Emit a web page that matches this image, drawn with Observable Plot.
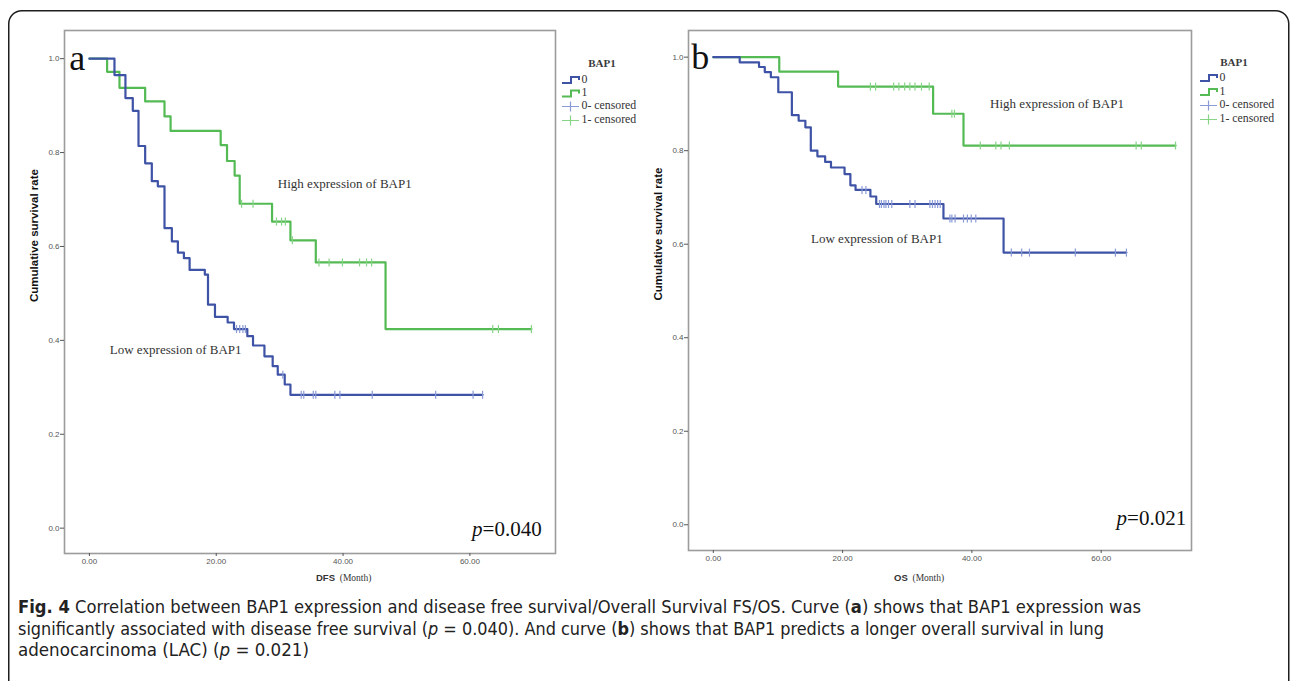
<!DOCTYPE html>
<html>
<head>
<meta charset="utf-8">
<script src="https://cdn.jsdelivr.net/npm/d3@7"></script>
<script src="https://cdn.jsdelivr.net/npm/@observablehq/plot@0.6"></script>
<style>
  html, body { margin: 0; padding: 0; background: #fff; }
  body { width: 1292px; height: 681px; overflow: hidden; position: relative; font-family: "Liberation Sans", Arial, sans-serif; }
  .panel { position: absolute; top: 0; }
  #overlay { position: absolute; left: 0; top: 0; pointer-events: none; }
</style>
</head>
<body>
<div id="pa" class="panel"></div>
<div id="pb" class="panel"></div>
<svg id="overlay" width="1292" height="681"></svg>
<script>
// ---------------- DATA ----------------
// Panel a: disease free survival (months), Kaplan-Meier steps
const dfsLowTime   = [0, 3.95, 5.68, 6.84, 7.74, 8.79, 9.84, 10.79, 11.84, 13.0, 13.95, 14.9, 15.8, 18.2, 18.7, 19.8, 21.8, 22.8, 24.9, 25.8, 27.6, 28.9, 29.7, 30.8, 31.7, 62.0];
const dfsLowSurv   = [1, 0.965, 0.916, 0.889, 0.814, 0.777, 0.739, 0.728, 0.639, 0.611, 0.587, 0.575, 0.550, 0.540, 0.476, 0.450, 0.438, 0.424, 0.409, 0.389, 0.366, 0.345, 0.327, 0.306, 0.284, 0.284];
const dfsLowCensor = [23.2, 23.7, 24.2, 24.6, 30.5, 33.4, 33.8, 35.3, 35.7, 38.7, 39.5, 44.6, 54.6, 60.5, 62.0];
const dfsHighTime   = [0, 2.79, 4.74, 8.79, 11.84, 12.8, 20.7, 21.7, 22.9, 23.7, 28.8, 31.7, 35.7, 46.7, 69.7];
const dfsHighSurv   = [1, 0.972, 0.938, 0.909, 0.877, 0.846, 0.816, 0.782, 0.751, 0.691, 0.653, 0.613, 0.566, 0.424, 0.424];
const dfsHighCensor = [24.0, 25.8, 29.5, 30.3, 30.9, 32.0, 36.2, 37.8, 39.9, 42.6, 43.7, 44.5, 63.6, 64.5, 69.7];

// Panel b: overall survival (months)
const osLowTime   = [0, 4.08, 7.07, 7.96, 8.9, 10.05, 12.15, 13.2, 14.24, 15.08, 16.1, 17.3, 18.2, 20.3, 21.2, 22.0, 24.3, 25.2, 35.6, 44.9, 63.9];
const osLowSurv   = [1, 0.989, 0.979, 0.968, 0.957, 0.925, 0.876, 0.864, 0.850, 0.800, 0.788, 0.776, 0.764, 0.750, 0.726, 0.716, 0.702, 0.686, 0.655, 0.582, 0.582];
const osLowCensor = [23.0, 23.6, 25.7, 26.0, 26.4, 26.7, 27.1, 27.6, 30.4, 31.2, 33.5, 33.9, 34.3, 34.7, 35.1, 36.6, 36.9, 37.4, 38.7, 39.3, 39.9, 40.6, 46.1, 47.7, 48.9, 56.0, 62.2, 63.9];
const osHighTime   = [0, 10.2, 19.3, 34.0, 38.7, 71.5];
const osHighSurv   = [1, 0.969, 0.937, 0.879, 0.811, 0.811];
const osHighCensor = [24.3, 25.1, 27.9, 28.7, 29.6, 30.4, 31.2, 32.2, 33.4, 36.9, 37.3, 41.3, 43.7, 44.5, 45.8, 65.4, 66.2, 71.5];

// Tick labels
const xTicks = [0, 20, 40, 60];
const yTicks = [0, 0.2, 0.4, 0.6, 0.8, 1.0];

// Text
const legendTitle = "BAP1";
const legendLabels = ["0", "1", "0- censored", "1- censored"];
const yLabel = "Cumulative survival rate";
const captionLines = [
  [["Fig. 4", "b"], [" Correlation between BAP1 expression and disease free survival/Overall Survival FS/OS. Curve (", ""], ["a", "b"], [") shows that BAP1 expression was", ""]],
  [["significantly associated with disease free survival (", ""], ["p", "i"], [" = 0.040). And curve (", ""], ["b", "b"], [") shows that BAP1 predicts a longer overall survival in lung", ""]],
  [["adenocarcinoma (LAC) (", ""], ["p", "i"], [" = 0.021)", ""]]
];

// ---------------- STYLE ----------------
const BLUE = "#3f53a6", GREEN = "#54ba54", BLUE_C = "#8a9ad6", GREEN_C = "#86d486";
const SERIF = "'Liberation Serif', 'Times New Roman', serif";
const SANS = "'Liberation Sans', Arial, sans-serif";

const rows = (t, s) => t.map((d, i) => ({t: d, s: s[i]}));
const levelAt = (t, s, x) => { let v = s[0]; for (let i = 0; i < t.length; i++) if (t[i] <= x) v = s[i]; return v; };
const censorRows = (c, t, s) => c.map(x => ({t: x, s: levelAt(t, s, x)}));
const vtick = {draw(ctx, size) { const r = Math.sqrt(size / Math.PI); ctx.moveTo(0, -r); ctx.lineTo(0, r); }};

function panel(cfg) {
  const low = rows(cfg.lowT, cfg.lowS), high = rows(cfg.highT, cfg.highS);
  const lowC = censorRows(cfg.lowC, cfg.lowT, cfg.lowS), highC = censorRows(cfg.highC, cfg.highT, cfg.highS);
  const n = cfg.notes;
  const chart = Plot.plot({
    width: cfg.width, height: cfg.height,
    marginLeft: cfg.mL, marginRight: cfg.mR, marginTop: cfg.mT, marginBottom: cfg.mB,
    style: {fontFamily: SANS, fontSize: "8px", color: "#555", background: "transparent", overflow: "visible"},
    x: {domain: cfg.xDomain},
    y: {domain: cfg.yDomain},
    marks: [
      Plot.frame({stroke: "#9c9c9c", strokeWidth: 1.6}),
      Plot.axisX({ticks: xTicks, tickFormat: d => d.toFixed(2), tickSize: 3, tickPadding: 2, label: null}),
      Plot.axisY({ticks: yTicks, tickFormat: d => d.toFixed(1), tickSize: 4, tickPadding: 1, label: null}),
      Plot.line(high, {x: "t", y: "s", curve: "step-after", stroke: GREEN, strokeWidth: 2.2}),
      Plot.line(low, {x: "t", y: "s", curve: "step-after", stroke: BLUE, strokeWidth: 2.2}),
      Plot.dot(highC, {x: "t", y: "s", symbol: vtick, r: 4, stroke: GREEN_C, strokeWidth: 1.2, fill: "none"}),
      Plot.dot(lowC, {x: "t", y: "s", symbol: vtick, r: 4, stroke: BLUE_C, strokeWidth: 1.2, fill: "none"}),
      Plot.text([n.tag], {x: n.tagX, y: n.tagY, text: d => d, textAnchor: "start", lineAnchor: "bottom", fontFamily: SERIF, fontSize: 36, fill: "#111"}),
      Plot.text(["High expression of BAP1"], {x: n.highX, y: n.highY, text: d => d, textAnchor: "start", fontFamily: SERIF, fontSize: 13, fill: "#333"}),
      Plot.text(["Low expression of BAP1"], {x: n.lowX, y: n.lowY, text: d => d, textAnchor: "start", fontFamily: SERIF, fontSize: 13, fill: "#333"}),
      Plot.text(["p"], {x: n.pX, y: n.pY, text: d => d, textAnchor: "end", lineAnchor: "bottom", fontFamily: SERIF, fontStyle: "italic", fontSize: 21, fill: "#111"}),
      Plot.text([n.pText], {x: n.pX, y: n.pY, text: d => d, textAnchor: "start", lineAnchor: "bottom", fontFamily: SERIF, fontSize: 21, fill: "#111"}),
      Plot.text([yLabel], {frameAnchor: "left", dx: -30, dy: cfg.yLabDy, rotate: -90, text: d => d, fontFamily: SANS, fontWeight: "bold", fontSize: 11.5, fill: "#111"})
    ]
  });
  const host = document.getElementById(cfg.id);
  host.style.left = cfg.left + "px";
  host.appendChild(chart);
}

panel({id: "pa", left: 0, width: 560, height: 600, mL: 64, mR: 5, mT: 30, mB: 47,
  xDomain: [-3.93, 73.5], yDomain: [-0.054, 1.06], yLabDy: 10,
  lowT: dfsLowTime, lowS: dfsLowSurv, lowC: dfsLowCensor,
  highT: dfsHighTime, highS: dfsHighSurv, highC: dfsHighCensor,
  notes: {tag: "a", tagX: -3.2, tagY: 0.975, highX: 29.7, highY: 0.733, lowX: 3.2, lowY: 0.38, pX: 62.0, pY: -0.016, pText: "=0.040"}});

panel({id: "pb", left: 620, width: 580, height: 600, mL: 68, mR: 9, mT: 30, mB: 50,
  xDomain: [-3.84, 73.97], yDomain: [-0.055, 1.057], yLabDy: 10,
  lowT: osLowTime, lowS: osLowSurv, lowC: osLowCensor,
  highT: osHighTime, highS: osHighSurv, highC: osHighCensor,
  notes: {tag: "b", tagX: -3.4, tagY: 0.975, highX: 42.8, highY: 0.90, lowX: 15.1, lowY: 0.612, pX: 64.0, pY: 0.0, pText: "=0.021"}});

// ---------------- OVERLAY: card, legends, axis titles, caption ----------------
const ov = d3.select("#overlay");
ov.append("rect").attr("x", 8.75).attr("y", 10.75).attr("width", 1280).attr("height", 800)
  .attr("rx", 13).attr("fill", "none").attr("stroke", "#1e1e1e").attr("stroke-width", 1.5);

function legend(x0, yTitle, ys, titleCx) {
  const g = ov.append("g");
  g.append("text").attr("x", titleCx).attr("y", yTitle).attr("text-anchor", "middle").attr("dominant-baseline", "middle")
    .attr("font-family", SERIF).attr("font-size", 11).attr("font-weight", "bold").attr("fill", "#3a3a3a").text(legendTitle);
  const cols = [BLUE, GREEN, BLUE_C, GREEN_C];
  ys.forEach((y, i) => {
    if (i < 2) {
      g.append("path").attr("d", `M${x0},${y + 3}H${x0 + 9}V${y - 3}H${x0 + 17}V${y}`)
        .attr("fill", "none").attr("stroke", cols[i]).attr("stroke-width", 2);
    } else {
      g.append("path").attr("d", `M${x0},${y}H${x0 + 17}M${x0 + 8.5},${y - 5}V${y + 5}`)
        .attr("fill", "none").attr("stroke", cols[i]).attr("stroke-width", 1.2);
    }
    g.append("text").attr("x", x0 + 19.5).attr("y", y).attr("dominant-baseline", "middle")
      .attr("font-family", SERIF).attr("font-size", 11.8).attr("fill", "#333").text(legendLabels[i]);
  });
}
legend(562, 64, [80, 93.5, 106.5, 120.5], 602);
legend(1200, 63, [78, 92, 105.5, 119.5], 1234);

function axisTitle(x, y, bold) {
  const t = ov.append("text").attr("x", x).attr("y", y).attr("fill", "#333");
  t.append("tspan").attr("font-family", SANS).attr("font-weight", "bold").attr("font-size", 9.5).text(bold);
  t.append("tspan").attr("font-family", SERIF).attr("font-size", 9.5).text("\u00a0\u00a0(Month)");
}
axisTitle(316, 581, "DFS");
axisTitle(894, 581, "OS");

const capW = [1123, 1086, 291];
const capY = [613, 635, 656];
captionLines.forEach((parts, i) => {
  const t = ov.append("text").attr("x", 18).attr("y", capY[i]).attr("font-family", "'Liberation Sans Narrow', 'DejaVu Sans Condensed', 'Roboto', sans-serif")
    .attr("font-size", 17.5).attr("fill", "#222").attr("textLength", capW[i]).attr("lengthAdjust", "spacingAndGlyphs");
  parts.forEach(([s, st]) => {
    const sp = t.append("tspan").text(s.replace(/ /g, "\u00a0"));
    if (st === "b") sp.attr("font-weight", "bold");
    if (st === "i") sp.attr("font-style", "italic");
  });
});
</script>
</body>
</html>
